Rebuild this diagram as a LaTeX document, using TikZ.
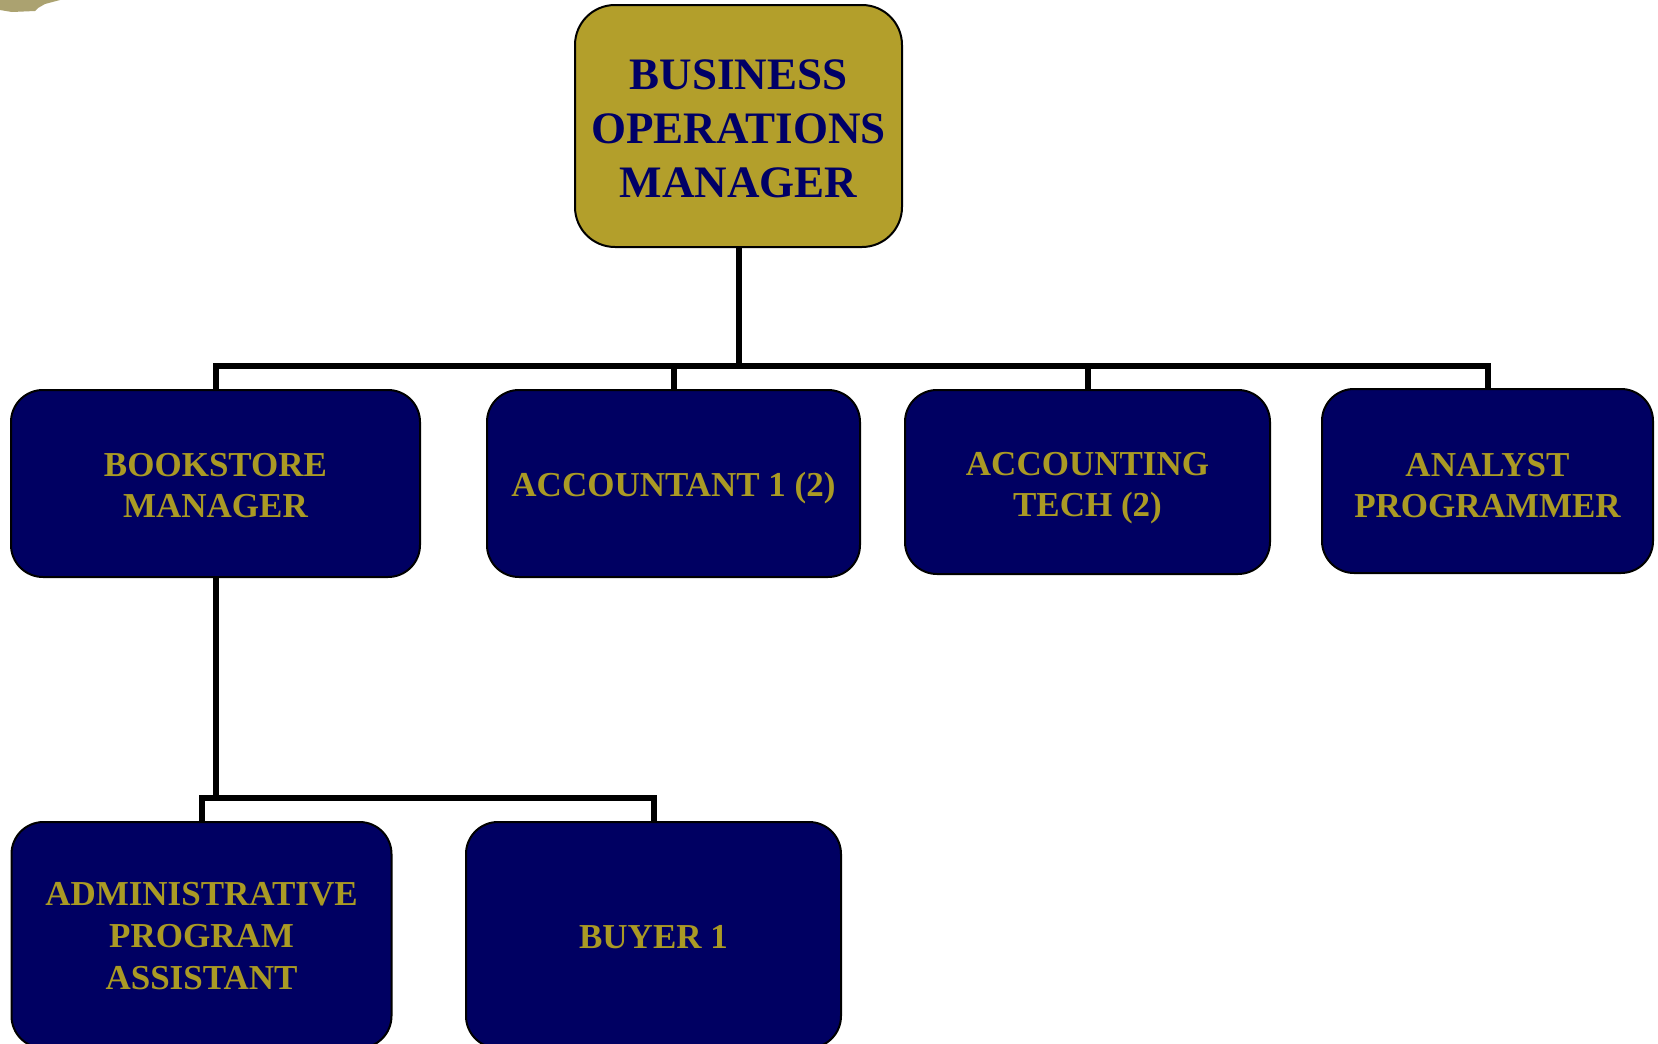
\documentclass[tikz,border=0pt]{standalone}
\usepackage{fontspec}
\setmainfont{Liberation Serif}
\definecolor{navyfill}{RGB}{0,0,98}
\definecolor{olivefill}{RGB}{179,159,43}
\definecolor{olivetext}{RGB}{170,154,36}
\definecolor{navytext}{RGB}{0,0,102}
\definecolor{smear}{RGB}{171,162,112}
\newcommand\lowr[1]{\rule{0pt}{#1pt}}
\tikzset{
  headbox/.style={draw=black, line width=2pt, fill=olivefill, rounded corners=40pt,
    inner sep=0pt, align=center, text=navytext,
    font=\fontsize{45}{54}\selectfont\bfseries},
  rolebox/.style={draw=black, line width=2pt, fill=navyfill, rounded corners=32pt,
    inner sep=0pt, align=center, text=olivetext,
    font=\fontsize{35}{41}\selectfont\bfseries},
  link/.style={draw=black, line width=6pt}
}
\begin{document}
\begin{tikzpicture}[x=1pt,y=-1pt]
\useasboundingbox (0,0) rectangle (1658,1044);
\clip (0,0) rectangle (1658,1044);
\fill[smear] (0,0) -- (60,0) -- (45,4) -- (38,8) -- (35,11) -- (12,12) -- (0,10) -- cycle;

\node[headbox, minimum width=327pt, minimum height=242pt] (top) at (738.5,126) {\lowr{34.5}BUSINESS\\OPERATIONS\\MANAGER};

\node[rolebox, minimum width=409pt, minimum height=187pt] (book) at (215.5,483.5) {\lowr{27.2}BOOKSTORE\\MANAGER};
\node[rolebox, minimum width=373pt, minimum height=187pt] (acct) at (673.5,483.5) {\lowr{34.3}ACCOUNTANT 1 (2)};
\node[rolebox, minimum width=365pt, minimum height=184pt] (tech) at (1087.5,482) {\lowr{35.7}ACCOUNTING\\TECH (2)};
\node[rolebox, minimum width=331pt, minimum height=184pt] (analyst) at (1487.5,481) {\lowr{31.7}ANALYST\\PROGRAMMER};

\node[rolebox, minimum width=380pt, minimum height=226pt, font=\fontsize{35}{42}\selectfont\bfseries] (admin) at (201.5,935) {\lowr{25.2}ADMINISTRATIVE\\PROGRAM\\ASSISTANT};
\node[rolebox, minimum width=375pt, minimum height=226pt] (buyer) at (653.5,935) {\lowr{27.2}BUYER 1};

\coordinate (busA) at (0,366);
\coordinate (busB) at (0,798);

\draw[link] (top.south) -- (top.south |- busA);
\draw[link] (book.north) -- (book.north |- busA) -- (analyst.north |- busA) -- (analyst.north);
\draw[link] (acct.north) -- (acct.north |- busA);
\draw[link] (tech.north) -- (tech.north |- busA);

\draw[link] (book.south) -- (book.south |- busB);
\draw[link] (admin.north) -- (admin.north |- busB) -- (buyer.north |- busB) -- (buyer.north);
\end{tikzpicture}
\end{document}
